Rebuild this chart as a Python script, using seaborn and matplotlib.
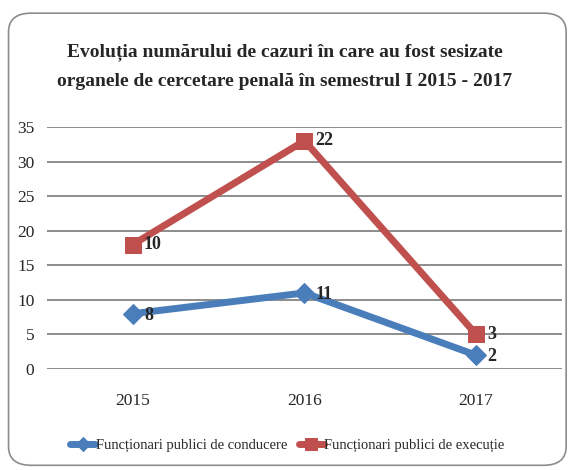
import pandas as pd
import matplotlib.pyplot as plt
import seaborn as sns
from matplotlib.patches import FancyBboxPatch

# Daten (gestapeltes Liniendiagramm wie in Excel)
ani = ["2015", "2016", "2017"]
conducere = [8, 11, 2]
executie = [10, 22, 3]

serie_cond = "Funcționari publici de conducere"
serie_exec = "Funcționari publici de execuție"

df = pd.DataFrame({"an": ani, "conducere": conducere, "executie": executie})
df["executie_stack"] = df["conducere"] + df["executie"]

sns.set_style("white")
plt.rcParams["font.family"] = ["Liberation Serif", "DejaVu Serif"]

fig = plt.figure(figsize=(5.69, 4.70), dpi=100)
ax = fig.add_axes([0.0826, 0.2149, 0.905, 0.515])

blue = "#4A7EBB"
red = "#C0504D"

sns.lineplot(data=df, x="an", y="conducere", ax=ax, color=blue, linewidth=5,
             marker="D", markersize=10, markeredgecolor=blue, label=serie_cond,
             sort=False)
sns.lineplot(data=df, x="an", y="executie_stack", ax=ax, color=red, linewidth=5,
             marker="s", markersize=11, markeredgecolor=red, label=serie_exec,
             sort=False)

# Etichete de date
for i, row in df.iterrows():
    ax.annotate(str(row["conducere"]), (i, row["conducere"]), xytext=(8, -1),
                textcoords="offset points", ha="left", va="center",
                fontsize=13, fontweight="bold")
    ax.annotate(str(row["executie"]), (i, row["executie_stack"]), xytext=(8, 0),
                textcoords="offset points", ha="left", va="center",
                fontsize=13, fontweight="bold")

ax.set_xlim(-0.5, 2.5)
ax.set_ylim(0, 35)
ax.set_yticks(range(0, 36, 5))
ax.yaxis.grid(True, color="#8C8C8C", linewidth=1.4)
ax.xaxis.grid(False)
ax.set_axisbelow(True)
for s in ax.spines.values():
    s.set_visible(False)
ax.tick_params(axis="y", length=0, pad=9, labelsize=12.5)
ax.tick_params(axis="x", length=0, pad=17, labelsize=12.5)
ax.set_xlabel("")
ax.set_ylabel("")

ax.get_legend().remove()
handles, labels = ax.get_legend_handles_labels()
fig.legend(handles, labels, loc="center", bbox_to_anchor=(0.505, 0.052), ncol=2,
           frameon=False, fontsize=10.5, handlelength=1.7, handletextpad=0.05,
           columnspacing=0.8, markerscale=0.75)

fig.text(0.5, 0.858, "Evoluția numărului de cazuri în care au fost sesizate\n"
         "organele de cercetare penală în semestrul I 2015 - 2017",
         ha="center", va="center", fontsize=14, fontweight="bold", linespacing=1.95)

# Rahmen
box = FancyBboxPatch((0.015, 0.01), 0.98, 0.962, transform=fig.transFigure,
                     boxstyle="round,pad=0,rounding_size=0.04",
                     facecolor="none", edgecolor="#8C8C8C", linewidth=1.2)
fig.patches.append(box)

plt.savefig("out.png", dpi=100)
plt.close()
